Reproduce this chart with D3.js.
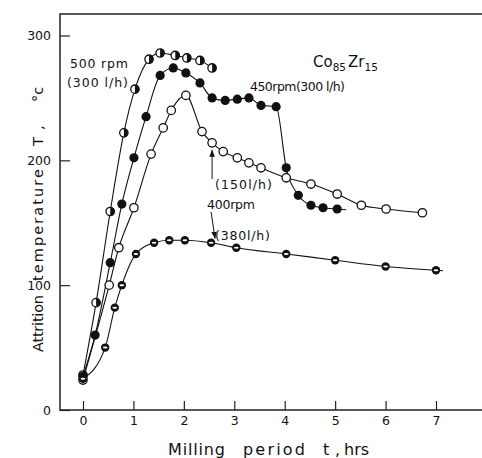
<!DOCTYPE html>
<html>
<head>
<meta charset="utf-8">
<script src="https://cdn.jsdelivr.net/npm/d3@7"></script>
<style>
  body { margin: 0; background: #fff; }
  svg { display: block; }
  text { font-family: "DejaVu Sans", "Liberation Sans", sans-serif; fill: #111; }
  .lbl { white-space: pre; }
</style>
</head>
<body>
<div id="chart"></div>
<script>
// 500 rpm (300 l/h)
const timeA = [0, 0.26, 0.54, 0.81, 1.03, 1.31, 1.53, 1.83, 2.06, 2.32, 2.56];
const tempA = [28, 86, 159, 222, 257, 281, 286, 284, 282, 280, 274];
// 450 rpm (300 l/h)
const timeB = [0, 0.24, 0.54, 0.77, 1.01, 1.25, 1.53, 1.79, 2.04, 2.32, 2.56, 2.82, 3.06, 3.29, 3.53, 3.83, 4.03, 4.27, 4.52, 4.76, 5.04];
const tempB = [27, 60, 118, 165, 202, 235, 268, 274, 270, 262, 250, 248, 249, 250, 244, 243, 194, 172, 164, 162, 161];
// 400 rpm (150 l/h)
const timeC = [0, 0.52, 0.71, 1.01, 1.35, 1.59, 1.75, 2.04, 2.36, 2.56, 2.78, 3.06, 3.29, 3.53, 4.03, 4.52, 5.04, 5.52, 6.01, 6.73];
const tempC = [24, 100, 130, 162, 205, 226, 240, 252, 223, 214, 207, 202, 198, 194, 186, 181, 173, 164, 161, 158];
// 400 rpm (380 l/h)
const timeD = [0, 0.44, 0.63, 0.77, 1.05, 1.41, 1.71, 2.02, 2.54, 3.04, 4.03, 5.0, 6.0, 7.0];
const tempD = [25, 50, 82, 100, 125, 134, 136, 136, 134, 130, 125, 120, 115, 112];

const xTicks = [0, 1, 2, 3, 4, 5, 6, 7, 8];
const yTicks = [0, 100, 200, 300];

const width = 482, height = 458;
const frameLeft = 60, frameTop = 14, frameBottom = 410;

const x = d3.scaleLinear().domain([0, 7]).range([83, 436]);
const y = d3.scaleLinear().domain([0, 300]).range([frameBottom, 35.5]);

const svg = d3.select("#chart").append("svg")
  .attr("width", width).attr("height", height);

// frame
svg.append("path")
  .attr("d", `M${width},${frameTop}H${frameLeft}V${frameBottom}H${width}`)
  .attr("fill", "none").attr("stroke", "#222").attr("stroke-width", 1.5);

// axes
const xAxis = svg.append("g").attr("transform", `translate(0,${frameBottom})`)
  .call(d3.axisBottom(x).tickValues(xTicks).tickSize(-9).tickPadding(6).tickFormat(d3.format("d")));
const yAxis = svg.append("g").attr("transform", `translate(${frameLeft},0)`)
  .call(d3.axisLeft(y).tickValues(yTicks).tickSize(-10).tickPadding(9).tickFormat(d3.format("d")));
[xAxis, yAxis].forEach(a => {
  a.select(".domain").remove();
  a.selectAll("line").attr("stroke", "#222").attr("stroke-width", 1.2);
  a.selectAll("text").attr("font-size", 12.5).attr("font-family", "Liberation Sans, Arial, sans-serif").attr("fill", "#111");
});

// word by word placed text (words sit in the gaps between tick labels)
function words(g, list, size) {
  list.forEach(([txt, pos, len]) => {
    const t = g.append("text").attr("class", "lbl")
      .attr("x", pos).attr("y", 0)
      .attr("font-size", size)
      .text(txt);
    if (len) t.attr("textLength", len).attr("lengthAdjust", "spacing");
  });
}

// axis titles
const yTitle = svg.append("g").attr("transform", "translate(43,0) rotate(-90)");
words(yTitle, [["Attrition", -352, 57], ["temperature", -281, 112], ["T", -146, 0], [",", -130, 0], ["°c", -102, 0]], 14.5);
const xTitle = svg.append("g").attr("transform", "translate(0,455)");
words(xTitle, [["Milling", 168, 57], ["period", 243, 62], ["t", 323, 0], [",", 335, 0], ["hrs", 344, 0]], 16);

const series = [
  { name: "A", t: timeA, v: tempA, mark: "half", tail: 0 },
  { name: "B", t: timeB, v: tempB, mark: "fill", tail: 9 },
  { name: "C", t: timeC, v: tempC, mark: "open", tail: 0 },
  { name: "D", t: timeD, v: tempD, mark: "band", tail: 7 }
];

const line = d3.line().x(d => x(d[0])).y(d => y(d[1])).curve(d3.curveMonotoneX);

series.forEach(s => {
  const pts = s.t.map((t, i) => [t, s.v[i]]);
  svg.append("path")
    .attr("d", line(pts))
    .attr("fill", "none").attr("stroke", "#111").attr("stroke-width", 1.1);
  if (s.tail) {
    const a = pts[pts.length - 2], b = pts[pts.length - 1];
    const dx = x(b[0]) - x(a[0]), dy = y(b[1]) - y(a[1]);
    const len = Math.hypot(dx, dy);
    svg.append("line")
      .attr("x1", x(b[0])).attr("y1", y(b[1]))
      .attr("x2", x(b[0]) + dx / len * s.tail).attr("y2", y(b[1]) + dy / len * s.tail)
      .attr("stroke", "#111").attr("stroke-width", 1.1);
  }
});

// markers
const r = 4.2;
series.forEach(s => {
  const g = svg.append("g").selectAll("g")
    .data(s.t.map((t, i) => [t, s.v[i]]))
    .join("g")
    .attr("transform", d => `translate(${x(d[0])},${y(d[1])})`);
  if (s.mark === "fill") {
    g.append("circle").attr("r", r + 0.4).attr("fill", "#111");
  } else if (s.mark === "open") {
    g.append("circle").attr("r", r).attr("fill", "#fff").attr("stroke", "#111").attr("stroke-width", 1.3);
  } else if (s.mark === "half") {
    g.append("circle").attr("r", r).attr("fill", "#fff").attr("stroke", "#111").attr("stroke-width", 1.3);
    g.append("path").attr("d", `M0,${-r}A${r},${r} 0 0 1 0,${r}Z`).attr("fill", "#111");
  } else {
    g.append("circle").attr("r", r).attr("fill", "#111");
    g.append("ellipse").attr("rx", 2.4).attr("ry", 1).attr("fill", "#fff");
  }
});

// annotations
function label(txt, lx, ly, len) {
  svg.append("text").attr("class", "lbl")
    .attr("x", lx).attr("y", ly).attr("font-size", 12.5)
    .attr("textLength", len).attr("lengthAdjust", "spacing")
    .text(txt);
}
label("500 rpm", 70, 68, 58);
label("(300 l/h)", 67, 87, 61);
label("450rpm(300 l/h)", 250, 91, 95);
label("(150l/h)", 215, 189, 57);
label("400rpm", 207, 209, 48);
label("(380l/h)", 215, 240, 55);

const title = svg.append("text").attr("x", 313).attr("y", 67).attr("font-size", 15);
title.append("tspan").text("Co");
title.append("tspan").attr("font-size", 10.5).attr("dy", 4).text("85");
title.append("tspan").attr("dy", -4).attr("dx", 2).text("Zr");
title.append("tspan").attr("font-size", 10.5).attr("dy", 4).text("15");

// arrows pointing at the 150 l/h and 380 l/h curves
svg.append("defs").append("marker")
  .attr("id", "head").attr("viewBox", "0 0 10 10").attr("refX", 10).attr("refY", 5)
  .attr("markerWidth", 7).attr("markerHeight", 7).attr("orient", "auto-start-reverse")
  .append("path").attr("d", "M0,1L10,5L0,9Z").attr("fill", "#111");
const cTip = [x(timeC[9]), y(tempC[9])];
svg.append("line")
  .attr("x1", cTip[0]).attr("y1", 179).attr("x2", cTip[0]).attr("y2", cTip[1] + 7)
  .attr("stroke", "#111").attr("stroke-width", 1).attr("marker-end", "url(#head)");
const dTip = [x(timeD[8]), y(tempD[8])];
svg.append("line")
  .attr("x1", dTip[0]).attr("y1", 212).attr("x2", dTip[0] + 4).attr("y2", dTip[1] - 4)
  .attr("stroke", "#111").attr("stroke-width", 1).attr("marker-end", "url(#head)");
</script>
</body>
</html>
